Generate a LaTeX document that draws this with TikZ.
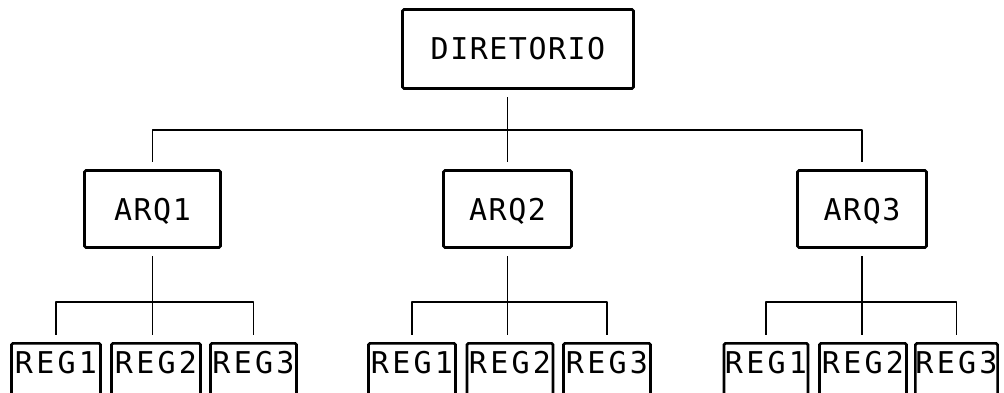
\documentclass[tikz,border=0pt]{standalone}
\usepackage{fontspec}
\newfontfamily\boxfont[LetterSpace=5]{DejaVu Sans Mono}
\newfontfamily\regfont[LetterSpace=11]{DejaVu Sans Mono}
\usetikzlibrary{positioning}

\tikzset{
    box/.style={draw, line width=2.6pt, rounded corners=1.5pt, inner sep=0pt,
        font=\boxfont\fontsize{30}{36}\selectfont, text height=22pt, text depth=0pt},
    regbox/.style={box, font=\regfont\fontsize{30}{36}\selectfont,
        text height=30pt, text depth=26pt, anchor=north},
    link/.style={line width=1.7pt, line join=round, shorten <=7.5pt, shorten >=7.5pt}
}

\begin{document}
\begin{tikzpicture}[x=1pt,y=-1pt]
    \useasboundingbox (0,0) rectangle (1004,393);
    \node[box, minimum width=231, minimum height=79] (dir) at (518,49) {DIRETORIO};
    \foreach \g/\x/\w in {1/152.5/136, 2/507.5/128, 3/862/129}
        \node[box, minimum width=\w, minimum height=77] (arq-\g) at (\x,209) {ARQ\g};
    \foreach \g/\i/\x/\w in {1/1/56/89, 1/2/156/89, 1/3/253.5/86,
                             2/1/412/87, 2/2/510/86, 2/3/607/87,
                             3/1/766/84, 3/2/863/87, 3/3/956.5/81}
        \node[regbox, minimum width=\w] (reg-\g-\i) at (\x,342) {REG\i};
    \coordinate (top bar) at (0,130);
    \coordinate (low bar) at (0,302);
    % directory to files
    \draw[link] (dir.south -| arq-2.north) -- (arq-2.north);
    \draw[link] (arq-1.north) -- (arq-1.north |- top bar) -- (arq-3.north |- top bar) -- (arq-3.north);
    % files to records
    \foreach \g in {1,2,3}
    {
        \draw[link] (arq-\g.south) -- (arq-\g.south |- reg-\g-2.north);
        \draw[link] (reg-\g-1.north) -- (reg-\g-1.north |- low bar) -- (reg-\g-3.north |- low bar) -- (reg-\g-3.north);
    }
\end{tikzpicture}
\end{document}
